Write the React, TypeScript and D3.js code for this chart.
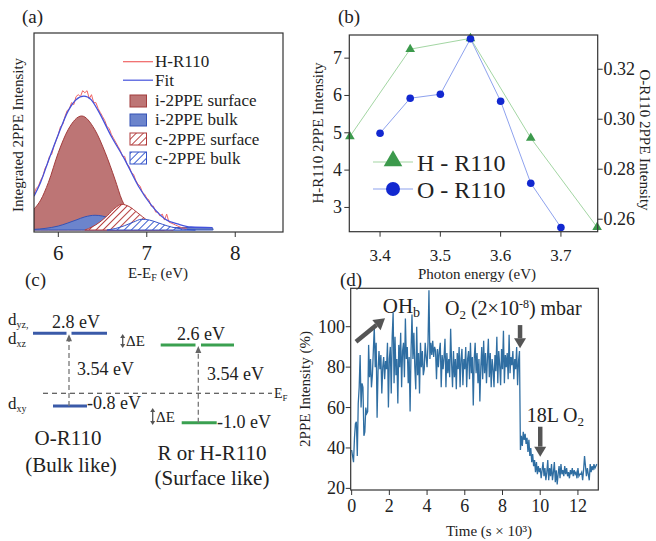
import * as d3 from "d3";

const FONT = '"Liberation Serif", "DejaVu Serif", "Times New Roman", serif';

// ---------- (a) integrated 2PPE spectrum of H-R110 and its fit components
const aTicks = [6, 7, 8];
const hR110Raw: [number, number][] = [
  [5.725, 18], [5.75, 21], [5.775, 22], [5.8, 25], [5.825, 27], [5.85, 31], [5.875, 33], [5.9, 37],
  [5.925, 38], [5.95, 42], [5.975, 45], [6.0, 48], [6.025, 52], [6.05, 53], [6.075, 57], [6.1, 60],
  [6.125, 61], [6.15, 64], [6.175, 63], [6.2, 67], [6.225, 68], [6.25, 67], [6.275, 70], [6.3, 69],
  [6.325, 70], [6.35, 66], [6.375, 68], [6.4, 64], [6.425, 64], [6.45, 61], [6.475, 59], [6.5, 57],
  [6.525, 55], [6.55, 52], [6.575, 51], [6.6, 48], [6.625, 46], [6.65, 44], [6.675, 42], [6.7, 40],
  [6.725, 37], [6.75, 37], [6.775, 33], [6.8, 32], [6.825, 29], [6.85, 28], [6.875, 25], [6.9, 23],
  [6.925, 22], [6.95, 19], [6.975, 18], [7.0, 16], [7.025, 15], [7.05, 12], [7.075, 12], [7.1, 9],
  [7.125, 9], [7.15, 7], [7.175, 8], [7.2, 5], [7.225, 8], [7.25, 4], [7.275, 3.5], [7.3, 3],
  [7.325, 2.5], [7.35, 2], [7.375, 1.5], [7.4, 1], [7.425, 1], [7.45, 0.8],
];
const fitCurve: [number, number][] = [
  [5.725, 17], [5.8, 24], [5.887, 34.7], [6.0, 48], [6.113, 60], [6.2, 65.5], [6.29, 67.3],
  [6.37, 65.5], [6.45, 60], [6.6, 47], [6.75, 35.5], [6.906, 22], [7.06, 12], [7.21, 5.4],
  [7.36, 2.9], [7.5, 1.5], [7.74, 1.2],
];
const iSurface: [number, number][] = [
  [5.725, 10.5], [5.8, 15], [5.887, 23.8], [6.0, 38.9], [6.113, 50.6], [6.264, 57.3], [6.41, 50.6],
  [6.53, 38.9], [6.64, 25.5], [6.72, 15], [6.8, 9], [6.9, 4.5], [7.0, 2], [7.1, 0.7], [7.2, 0],
];
const iBulk: [number, number][] = [
  [5.725, 0.3], [5.85, 0.8], [6.0, 2], [6.1, 3.4], [6.2, 5], [6.3, 6.6], [6.415, 7.4], [6.5, 7],
  [6.6, 5.6], [6.7, 3.8], [6.8, 2.4], [6.9, 1.6], [7.0, 1.3], [7.2, 1.2], [7.74, 1.2], [7.75, 0],
];
const cSurface: [number, number][] = [
  [6.3, 0], [6.38, 1.5], [6.47, 4], [6.56, 7.5], [6.64, 11], [6.716, 12.9], [6.8, 11.8],
  [6.9, 8.5], [7.0, 5], [7.1, 2.2], [7.2, 0.7], [7.3, 0],
];
const cBulk: [number, number][] = [
  [6.55, 0], [6.65, 0.8], [6.75, 2.2], [6.85, 4], [6.943, 5.4], [7.03, 5], [7.13, 3.6],
  [7.23, 2.1], [7.33, 1], [7.45, 0.3], [7.55, 0],
];
const aLegendLines = ["H-R110", "Fit"];
const aLegendAreas = ["i-2PPE surface", "i-2PPE bulk", "c-2PPE surface", "c-2PPE bulk"];

// ---------- (b) photon energy dependence
const photonH = [3.35, 3.45, 3.55, 3.65, 3.76];
const intensityH = [4.9, 7.24, 7.53, 4.86, 2.47];
const photonO = [3.4, 3.45, 3.5, 3.55, 3.6, 3.65, 3.7];
const intensityO = [0.2944, 0.3084, 0.31, 0.3322, 0.3072, 0.2744, 0.2567];
const bTicksX = [3.4, 3.5, 3.6, 3.7];
const bTicksL = [3, 4, 5, 6, 7];
const bTicksR = [0.26, 0.28, 0.3, 0.32];

// ---------- (c) level scheme (energies in eV)
const levelEnergies = [-1.0, -0.8, 0, 2.6, 2.8];

// ---------- (d) 2PPE intensity vs time, one value every 50 s
const dStep = 0.05;
const dIntensity = [
  39, 36, 33, 45, 52, 53, 36, 62, 70, 86, 60, 72, 70, 46, 48, 60, 57, 58, 91, 75,
  84, 70, 76, 88, 100, 80, 92, 55, 78, 88, 79, 86, 67, 80, 85, 74, 83, 79, 92, 60,
  84, 90, 67, 95, 107, 72, 95, 76, 84, 62, 91, 80, 97, 70, 88, 92, 75, 104, 84, 90,
  72, 85, 58, 88, 106, 84, 97, 80, 69, 100, 76, 87, 67, 92, 80, 88, 76, 79, 92, 85,
  80, 92, 118, 84, 92, 86, 93, 85, 90, 88, 74, 89, 80, 88, 92, 70, 86, 79, 85, 94,
  70, 87, 77, 84, 75, 99, 82, 70, 88, 75, 84, 69, 87, 79, 90, 70, 84, 89, 71, 84,
  79, 90, 70, 84, 88, 74, 92, 77, 85, 61, 84, 92, 77, 87, 72, 84, 63, 80, 90, 74,
  93, 77, 87, 72, 84, 94, 75, 87, 70, 84, 79, 70, 86, 78, 95, 72, 88, 81, 71, 89,
  79, 98, 72, 86, 80, 87, 74, 96, 77, 85, 81, 88, 74, 84, 79, 90, 71, 83, 88, 39,
  46, 41, 48, 44, 47, 42, 45, 38, 44, 36, 40, 33, 37, 31, 34, 28, 33, 27, 31, 28,
  30, 25, 29, 33, 26, 30, 24, 28, 34, 24, 30, 26, 32, 24, 28, 33, 23, 29, 22, 27,
  31, 25, 32, 27, 29, 26, 31, 27, 30, 26, 28, 25, 29, 27, 30, 26, 29, 27, 28, 25,
  30, 26, 27, 27, 28, 24, 29, 36, 31, 26, 30, 27, 24, 32, 28, 31, 29, 32, 30, 31,
  32,
];
const dTicksX = [0, 2, 4, 6, 8, 10, 12];
const dTicksY = [20, 40, 60, 80, 100];

const ink = "#222";

function Arrow({ x1, y1, x2, y2, color, width, head }: any) {
  const a = Math.atan2(y2 - y1, x2 - x1);
  const bx = x2 - head * Math.cos(a), by = y2 - head * Math.sin(a);
  const hw = head * 0.6;
  const pts = [
    [x2, y2],
    [bx + hw * Math.sin(a), by - hw * Math.cos(a)],
    [bx - hw * Math.sin(a), by + hw * Math.cos(a)],
  ];
  return (
    <g>
      <line x1={x1} y1={y1} x2={bx} y2={by} stroke={color} strokeWidth={width} />
      <polygon points={pts.map((p) => p.join(",")).join(" ")} fill={color} />
    </g>
  );
}

export default function App() {
  // ----- (a)
  const xa = d3.scaleLinear().domain([5.725, 8.54]).range([34, 283]);
  const ya = d3.scaleLinear().domain([0, 100]).range([230, 31]);
  const areaA = d3.area<[number, number]>()
    .x((d) => xa(d[0])).y0(ya(0)).y1((d) => ya(d[1])).curve(d3.curveMonotoneX);
  const lineA = d3.line<[number, number]>()
    .x((d) => xa(d[0])).y((d) => ya(d[1])).curve(d3.curveMonotoneX);
  const rawA = d3.line<[number, number]>().x((d) => xa(d[0])).y((d) => ya(d[1]));

  // ----- (b)
  const xb = d3.scaleLinear().domain([3.349, 3.761]).range([349.3, 597.7]);
  const ybL = d3.scaleLinear().domain([2.35, 7.62]).range([231.7, 35]);
  const ybR = d3.scaleLinear().domain([0.255, 0.3337]).range([231.7, 35]);
  const lineH = d3.line<number>().x((_, i) => xb(photonH[i])).y((d) => ybL(d));
  const lineO = d3.line<number>().x((_, i) => xb(photonO[i])).y((d) => ybR(d));
  const tri = d3.symbol().type(d3.symbolTriangle);

  // ----- (c)
  const yc = d3.scaleLinear().domain(levelEnergies).range([422.7, 406, 393.3, 345, 333.3]);

  // ----- (d)
  const xd = d3.scaleLinear().domain([-0.05, 13.08]).range([350.7, 598.3]);
  const yd = d3.scaleLinear().domain([19.2, 119]).range([490, 288.3]);
  const lineD = d3.line<number>().x((_, i) => xd(i * dStep)).y((d) => yd(d));

  const aSwatch = [
    { fill: "#bd7575", stroke: "#a23c3c" },
    { fill: "#6c84cc", stroke: "#3553b5" },
    { fill: "url(#hatchRed)", stroke: "#b03a3a" },
    { fill: "url(#hatchBlue)", stroke: "#3553c8" },
  ];

  return (
    <svg width={656} height={541}
      style={{ position: "absolute", left: 0, top: 0, background: "#fff", fontFamily: FONT }}
      fill={ink}>
      <defs>
        <pattern id="hatchRed" patternUnits="userSpaceOnUse" width={5} height={5} patternTransform="rotate(45)">
          <rect width={5} height={5} fill="#fff" />
          <line x1={0} y1={0} x2={0} y2={5} stroke="#b84444" strokeWidth={2} />
        </pattern>
        <pattern id="hatchBlue" patternUnits="userSpaceOnUse" width={5} height={5} patternTransform="rotate(45)">
          <rect width={5} height={5} fill="#fff" />
          <line x1={0} y1={0} x2={0} y2={5} stroke="#3d5fd0" strokeWidth={2} />
        </pattern>
        <clipPath id="clipA"><rect x={34} y={33} width={249} height={199} /></clipPath>
        <clipPath id="clipD"><rect x={350.7} y={288.3} width={247.6} height={201.7} /></clipPath>
      </defs>

      {/* ================= (a) ================= */}
      <text x={22} y={23} fontSize={19}>(a)</text>
      <g clipPath="url(#clipA)">
        <path d={areaA(iSurface) ?? ""} fill={aSwatch[0].fill} stroke={aSwatch[0].stroke} strokeWidth={1} />
        <path d={areaA(iBulk) ?? ""} fill={aSwatch[1].fill} stroke={aSwatch[1].stroke} strokeWidth={1} />
        <path d={areaA(cSurface) ?? ""} fill={aSwatch[2].fill} stroke={aSwatch[2].stroke} strokeWidth={1} />
        <path d={areaA(cBulk) ?? ""} fill={aSwatch[3].fill} stroke={aSwatch[3].stroke} strokeWidth={1} />
        <path d={rawA(hR110Raw) ?? ""} fill="none" stroke="#f06464" strokeWidth={1} />
        <path d={lineA(fitCurve) ?? ""} fill="none" stroke="#4452dc" strokeWidth={1.3} />
      </g>
      <rect x={34} y={33} width={249} height={199} fill="none" stroke="#333" strokeWidth={1.2} />
      {aTicks.map((t) => (
        <g key={t}>
          <line x1={xa(t)} x2={xa(t)} y1={232} y2={237} stroke="#333" />
          <text x={xa(t)} y={260} fontSize={21} textAnchor="middle">{t}</text>
        </g>
      ))}
      <text transform="translate(23,135) rotate(-90)" fontSize={15} textAnchor="middle">Integrated 2PPE Intensity</text>
      <text x={158} y={278} fontSize={15} textAnchor="middle">
        E-E<tspan fontSize={10} dy={3}>F</tspan><tspan dy={-3}> (eV)</tspan>
      </text>
      {aLegendLines.map((s, i) => (
        <g key={s}>
          <line x1={123} x2={153} y1={61.7 + i * 18.5} y2={61.7 + i * 18.5}
            stroke={i === 0 ? "#f06464" : "#4452dc"} strokeWidth={1.2} />
          <text x={155} y={67 + i * 18.5} fontSize={17}>{s}</text>
        </g>
      ))}
      {aLegendAreas.map((s, i) => (
        <g key={s}>
          <rect x={130} y={95 + i * 19} width={16.5} height={12} fill={aSwatch[i].fill}
            stroke={aSwatch[i].stroke} strokeWidth={1} />
          <text x={155} y={105.5 + i * 19.5} fontSize={17}>{s}</text>
        </g>
      ))}

      {/* ================= (b) ================= */}
      <text x={338} y={23} fontSize={19}>(b)</text>
      <path d={lineH(intensityH) ?? ""} fill="none" stroke="#a3d6a3" strokeWidth={1} />
      <path d={lineO(intensityO) ?? ""} fill="none" stroke="#8ea2ee" strokeWidth={1} />
      {intensityH.map((v, i) => (
        <path key={i} d={tri.size(40)() ?? ""} transform={`translate(${xb(photonH[i])},${ybL(v)})`} fill="#3c9a4c" />
      ))}
      {intensityO.map((v, i) => (
        <circle key={i} cx={xb(photonO[i])} cy={ybR(v)} r={3.8} fill="#1228d0" />
      ))}
      <rect x={349.3} y={35} width={248.4} height={196.7} fill="none" stroke="#333" strokeWidth={1.2} />
      {bTicksX.map((t) => (
        <g key={t}>
          <line x1={xb(t)} x2={xb(t)} y1={231.7} y2={236.7} stroke="#333" />
          <text x={xb(t)} y={261} fontSize={17} textAnchor="middle">{t.toFixed(1)}</text>
        </g>
      ))}
      {bTicksL.map((t) => (
        <g key={t}>
          <line x1={344.3} x2={349.3} y1={ybL(t)} y2={ybL(t)} stroke="#333" />
          <text x={342} y={ybL(t) + 6} fontSize={18} textAnchor="end">{t}</text>
        </g>
      ))}
      {bTicksR.map((t) => (
        <g key={t}>
          <line x1={597.7} x2={602.7} y1={ybR(t)} y2={ybR(t)} stroke="#333" />
          <text x={603.5} y={ybR(t) + 6} fontSize={18}>{d3.format(".2f")(t)}</text>
        </g>
      ))}
      <text transform="translate(323,133) rotate(-90)" fontSize={15} textAnchor="middle">H-R110 2PPE Intensity</text>
      <text transform="translate(640,140) rotate(90)" fontSize={15} textAnchor="middle">O-R110 2PPE Intensity</text>
      <text x={477} y={279} fontSize={15} textAnchor="middle">Photon energy (eV)</text>
      <line x1={373} x2={413} y1={162} y2={162} stroke="#a3d6a3" strokeWidth={1.2} />
      <path d={tri.size(150)() ?? ""} transform="translate(393,161)" fill="#3c9a4c" />
      <text x={417} y={170.5} fontSize={24}>H - R110</text>
      <line x1={373} x2={413} y1={189} y2={189} stroke="#8ea2ee" strokeWidth={1.2} />
      <circle cx={393} cy={189} r={7} fill="#1228d0" />
      <text x={417} y={197.5} fontSize={24}>O - R110</text>

      {/* ================= (c) ================= */}
      <text x={25} y={286} fontSize={19}>(c)</text>
      {/* Fermi level */}
      <line x1={43} x2={272} y1={yc(0)} y2={yc(0)} stroke="#333" strokeWidth={1.1} strokeDasharray="5,4" />
      <text x={274} y={398} fontSize={14}>E<tspan fontSize={9} dy={3}>F</tspan></text>
      {/* O-R110 bulk-like levels */}
      <line x1={33} x2={66.5} y1={yc(2.8)} y2={yc(2.8)} stroke="#3a5aa8" strokeWidth={3} />
      <line x1={71.5} x2={107} y1={yc(2.8)} y2={yc(2.8)} stroke="#3a5aa8" strokeWidth={3} />
      <line x1={53} x2={87} y1={yc(-0.8)} y2={yc(-0.8)} stroke="#3a5aa8" strokeWidth={3} />
      <line x1={69} x2={69} y1={yc(-0.8)} y2={yc(2.8) + 7} stroke="#777" strokeWidth={1.3} strokeDasharray="5,3" />
      <polygon points={`69,${yc(2.8) + 1} 66,${yc(2.8) + 8} 72,${yc(2.8) + 8}`} fill="#666" />
      <text x={52} y={328} fontSize={18}>2.8 eV</text>
      <text x={77} y={375} fontSize={18}>3.54 eV</text>
      <text x={87} y={409} fontSize={18}>-0.8 eV</text>
      <text x={8} y={325} fontSize={17}>d<tspan fontSize={10} dy={3}>yz,</tspan></text>
      <text x={8} y={344} fontSize={17}>d<tspan fontSize={10} dy={3}>xz</tspan></text>
      <text x={8} y={409} fontSize={17}>d<tspan fontSize={10} dy={3}>xy</tspan></text>
      {/* R or H-R110 surface-like levels */}
      <line x1={160.7} x2={195.5} y1={yc(2.6)} y2={yc(2.6)} stroke="#3aa050" strokeWidth={3} />
      <line x1={201} x2={234} y1={yc(2.6)} y2={yc(2.6)} stroke="#3aa050" strokeWidth={3} />
      <line x1={181.7} x2={216.7} y1={yc(-1.0)} y2={yc(-1.0)} stroke="#3aa050" strokeWidth={3} />
      <line x1={198.3} x2={198.3} y1={yc(-1.0)} y2={yc(2.6) + 7} stroke="#777" strokeWidth={1.3} strokeDasharray="5,3" />
      <polygon points={`198.3,${yc(2.6) + 1} 195.3,${yc(2.6) + 8} 201.3,${yc(2.6) + 8}`} fill="#666" />
      <text x={177} y={340} fontSize={18}>2.6 eV</text>
      <text x={207} y={380} fontSize={18}>3.54 eV</text>
      <text x={217} y={428} fontSize={18}>-1.0 eV</text>
      {/* ΔE markers */}
      {[[122.7, 334, 348], [152.7, 408, 425]].map(([x, y1, y2], i) => (
        <g key={i} stroke="#555" fill="#555">
          <line x1={x} x2={x} y1={y1 + 3} y2={y2 - 3} strokeWidth={1.3} />
          <polygon points={`${x},${y1} ${x - 2.5},${y1 + 4} ${x + 2.5},${y1 + 4}`} stroke="none" />
          <polygon points={`${x},${y2} ${x - 2.5},${y2 - 4} ${x + 2.5},${y2 - 4}`} stroke="none" />
        </g>
      ))}
      <text x={126} y={346} fontSize={15}>ΔE</text>
      <text x={156} y={422} fontSize={15}>ΔE</text>
      <text x={68} y={445} fontSize={21} textAnchor="middle">O-R110</text>
      <text x={71} y={472} fontSize={21} textAnchor="middle">(Bulk like)</text>
      <text x={212} y={460} fontSize={21} textAnchor="middle">R or H-R110</text>
      <text x={212} y={485} fontSize={21} textAnchor="middle">(Surface like)</text>

      {/* ================= (d) ================= */}
      <text x={340} y={286} fontSize={19}>(d)</text>
      <g clipPath="url(#clipD)">
        <path d={lineD(dIntensity) ?? ""} fill="none" stroke="#2f6ea2" strokeWidth={1.3} />
      </g>
      <rect x={350.7} y={288.3} width={247.6} height={201.7} fill="none" stroke="#333" strokeWidth={1.2} />
      {dTicksX.map((t) => (
        <g key={t}>
          <line x1={xd(t)} x2={xd(t)} y1={490} y2={495} stroke="#333" />
          <text x={xd(t)} y={512} fontSize={18} textAnchor="middle">{t}</text>
        </g>
      ))}
      {dTicksY.map((t) => (
        <g key={t}>
          <line x1={345.7} x2={350.7} y1={yd(t)} y2={yd(t)} stroke="#333" />
          <text x={345} y={yd(t) + 6} fontSize={18} textAnchor="end">{t}</text>
        </g>
      ))}
      <text transform="translate(310,389) rotate(-90)" fontSize={15} textAnchor="middle">2PPE Intensity (%)</text>
      <text x={489} y={536} fontSize={15} textAnchor="middle">Time (s × 10³)</text>
      <Arrow x1={xd(0.23)} y1={yd(92.6)} x2={xd(1.77)} y2={yd(104.2)} color="#555" width={4.5} head={11} />
      <Arrow x1={xd(8.93)} y1={yd(100.8)} x2={xd(8.93)} y2={yd(89.3)} color="#555" width={4.5} head={10} />
      <Arrow x1={xd(10.0)} y1={yd(50.5)} x2={xd(10.0)} y2={yd(35.7)} color="#555" width={4.5} head={10} />
      <text x={xd(1.65)} y={yd(106.6)} fontSize={21}>OH<tspan fontSize={14} dy={4}>b</tspan></text>
      <text x={xd(4.95)} y={yd(105.8)} fontSize={20}>
        O<tspan fontSize={13} dy={4}>2</tspan><tspan dy={-4}> (2×10</tspan><tspan fontSize={12} dy={-7}>-8</tspan><tspan dy={7}>) mbar</tspan>
      </text>
      <text x={xd(9.28)} y={yd(53)} fontSize={20}>
        18L O<tspan fontSize={13} dy={4}>2</tspan>
      </text>
    </svg>
  );
}
